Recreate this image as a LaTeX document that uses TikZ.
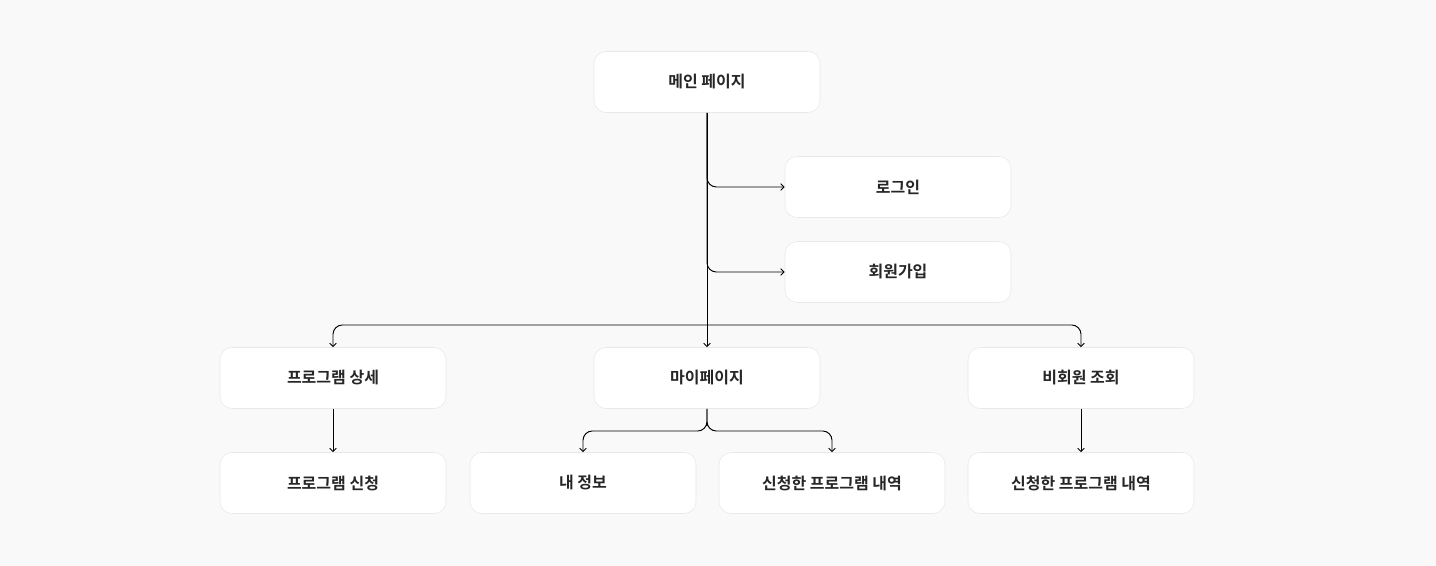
\documentclass[tikz,border=0pt]{standalone}
\usepackage{fontspec}
\newfontfamily\kr{Noto Sans CJK KR}[BoldFont={* Bold}]
\usetikzlibrary{arrows.meta}
\definecolor{bgcol}{HTML}{F9F9F9}
\definecolor{edgecol}{HTML}{E8E8E8}
\tikzset{
    pagebox/.style={draw=edgecol, fill=white, rounded corners=9pt, minimum width=169.5pt, minimum height=45.75pt, font=\kr\bfseries\fontsize{12}{14}\selectfont, text=black!85},
    link/.style={-{Straight Barb[length=2.5pt,width=5pt]}, line width=0.7pt, rounded corners=7pt}
}
\begin{document}
\begin{tikzpicture}[x=0.75pt,y=-0.75pt]
        % Background
        \fill[bgcol] (0,0) rectangle (1436,566);
        \useasboundingbox (0,0) rectangle (1436,566);

        % Pages
        \node[pagebox] (main) at (707,82) {메인 페이지};
        \node[pagebox] (login) at (898,187) {로그인};
        \node[pagebox] (join) at (898,272) {회원가입};
        \node[pagebox] (detail) at (333,378) {프로그램 상세};
        \node[pagebox] (mypage) at (707,378) {마이페이지};
        \node[pagebox] (guest) at (1081,378) {비회원 조회};
        \node[pagebox] (apply) at (333,483) {프로그램 신청};
        \node[pagebox] (info) at (583,483) {내 정보};
        \node[pagebox] (history) at (832,483) {신청한 프로그램 내역};
        \node[pagebox] (guesthist) at (1081,483) {신청한 프로그램 내역};

        % Branch points
        \coordinate (split) at (707,325);
        \coordinate (mysplit) at (707,431);

        % Links
        \draw[link] (main.south) -- (mypage.north);
        \draw[link] (main.south) |- (login.west);
        \draw[link] (main.south) |- (join.west);
        \draw[link] (split) -| (detail.north);
        \draw[link] (split) -| (guest.north);
        \draw[link] (detail.south) -- (apply.north);
        \draw[link] (guest.south) -- (guesthist.north);
        \draw[link] (mypage.south) |- (mysplit) -| (info.north);
        \draw[link] (mypage.south) |- (mysplit) -| (history.north);
    \end{tikzpicture}
\end{document}
